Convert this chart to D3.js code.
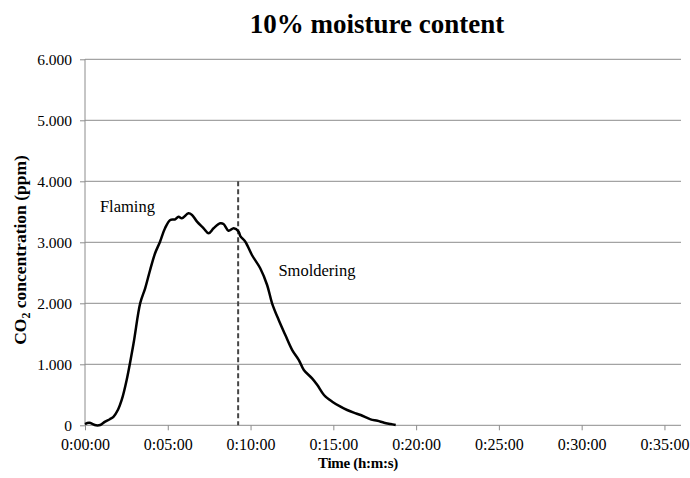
<!DOCTYPE html>
<html lang="en">
  <head>
    <meta charset="UTF-8" />
    <title>10% moisture content</title>
    <script src="https://d3js.org/d3.v7.min.js"></script>
    <style>
      body {
        margin: 0;
        background: #fff;
      }
      svg text {
        font-family: "Liberation Serif", "Times New Roman", serif;
        fill: #000;
      }
      .grid line {
        stroke: #8c8c8c;
        stroke-width: 1px;
      }
      .axis path,
      .axis line {
        stroke: #8c8c8c;
      }
    </style>
  </head>
  <body>
    <svg width="690" height="478"></svg>

    <script>
      // time in seconds since start, CO2 in ppm
      const timeSec = [
        0, 15, 40, 55, 73, 90, 103, 120, 133, 151, 176, 200, 218, 236, 254,
        272, 290, 309, 327, 339, 351, 375, 388, 406, 430, 448, 466, 490, 502,
        520, 539, 557, 563, 581, 605, 635, 660, 678, 702, 726, 751, 775, 793,
        823, 842, 866, 896, 926, 950, 974, 999, 1035, 1060, 1084, 1108, 1126,
      ];
      const co2 = [
        20, 40, 0, 5, 60, 100, 140, 260, 415, 743, 1344, 2000, 2246, 2546,
        2820, 3010, 3230, 3366, 3377, 3420, 3393, 3475, 3448, 3338, 3230,
        3148, 3230, 3311, 3300, 3190, 3230, 3174, 3100, 3010, 2792, 2574,
        2300, 2000, 1726, 1480, 1234, 1070, 907, 770, 660, 497, 387, 305, 251,
        207, 169, 98, 75, 43, 21, 5,
      ];
      const xTicks = [0, 300, 600, 900, 1200, 1500, 1800, 2100];
      const yTicks = [0, 1000, 2000, 3000, 4000, 5000, 6000];
      const xMax = 2160;
      const yMax = 6000;

      // flaming / smoldering boundary
      const boundaryTime = 555;
      const boundaryTop = 4000;
      const labels = [
        { text: "Flaming", t: 54, v: 3502 },
        { text: "Smoldering", t: 701, v: 2448 },
      ];

      const series = timeSec.map((t, i) => ({ t: t, v: co2[i] }));

      const svg = d3.select("svg");
      const plotLeft = 85,
        plotRight = 681,
        plotTop = 59.3,
        plotBottom = 425.3;

      const x = d3.scaleLinear().domain([0, xMax]).range([plotLeft, plotRight]);
      const y = d3.scaleLinear().domain([0, yMax]).range([plotBottom, plotTop]);

      const fmtTime = (s) => {
        const h = Math.floor(s / 3600);
        const m = Math.floor((s % 3600) / 60);
        const sec = s % 60;
        return h + ":" + String(m).padStart(2, "0") + ":" + String(sec).padStart(2, "0");
      };
      const fmtPpm = (v) => (v === 0 ? "0" : d3.format(".3f")(v / 1000));

      // horizontal gridlines
      svg
        .append("g")
        .attr("class", "grid")
        .selectAll("line")
        .data(yTicks.filter((d) => d > 0))
        .enter()
        .append("line")
        .attr("x1", plotLeft)
        .attr("x2", plotRight)
        .attr("y1", (d) => y(d))
        .attr("y2", (d) => y(d));

      // y axis
      const yAxis = svg
        .append("g")
        .attr("class", "axis")
        .attr("transform", `translate(${plotLeft},0)`)
        .call(d3.axisLeft(y).tickValues(yTicks).tickFormat(fmtPpm).tickSize(5).tickPadding(8));
      yAxis.select(".domain").attr("d", `M0,${plotTop}V${plotBottom}`);
      yAxis.selectAll("text").style("font-size", "15.5px");

      // x axis
      const xAxis = svg
        .append("g")
        .attr("class", "axis")
        .attr("transform", `translate(0,${plotBottom})`)
        .call(d3.axisBottom(x).tickValues(xTicks).tickFormat(fmtTime).tickSize(5).tickPadding(8));
      xAxis.select(".domain").attr("d", `M${plotLeft},0H${plotRight}`);
      xAxis.selectAll("text").style("font-size", "16px");

      // dashed boundary line
      svg
        .append("line")
        .attr("x1", x(boundaryTime))
        .attr("x2", x(boundaryTime))
        .attr("y1", y(boundaryTop))
        .attr("y2", y(0))
        .attr("stroke", "#454545")
        .attr("stroke-width", 2)
        .attr("stroke-dasharray", "5,3");

      // CO2 curve
      const line = d3
        .line()
        .x((d) => x(d.t))
        .y((d) => y(d.v))
        .curve(d3.curveCatmullRom.alpha(0.5));

      svg
        .append("path")
        .datum(series)
        .attr("fill", "none")
        .attr("stroke", "#000")
        .attr("stroke-width", 2.5)
        .attr("stroke-linejoin", "round")
        .attr("d", line);

      // phase labels
      svg
        .selectAll(".phase")
        .data(labels)
        .enter()
        .append("text")
        .attr("class", "phase")
        .attr("x", (d) => x(d.t))
        .attr("y", (d) => y(d.v))
        .style("font-size", "16.5px")
        .text((d) => d.text);

      // title
      svg
        .append("text")
        .attr("x", 377)
        .attr("y", 33)
        .attr("text-anchor", "middle")
        .style("font-size", "27px")
        .style("font-weight", "bold")
        .text("10% moisture content");

      // x axis title
      svg
        .append("text")
        .attr("x", 358)
        .attr("y", 468)
        .attr("text-anchor", "middle")
        .style("font-size", "15px")
        .style("font-weight", "bold")
        .style("letter-spacing", "-0.3px")
        .text("Time (h:m:s)");

      // y axis title with subscript
      const yTitle = svg
        .append("text")
        .attr("transform", "translate(26,250) rotate(-90)")
        .attr("text-anchor", "middle")
        .style("font-size", "17.5px")
        .style("font-weight", "bold");
      yTitle.append("tspan").text("CO");
      yTitle.append("tspan").attr("dy", 4).style("font-size", "12px").text("2");
      yTitle.append("tspan").attr("dy", -4).text(" concentration (ppm)");
    </script>
  </body>
</html>
